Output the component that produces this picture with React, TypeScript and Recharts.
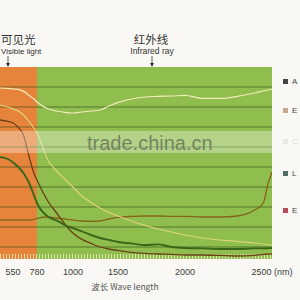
import { LineChart, Line, XAxis, YAxis, ReferenceArea, ReferenceLine, Legend } from 'recharts';

// wavelength grid (nm) and reflectance-like values
const wavelengths = [425, 500, 550, 600, 650, 700, 750, 780, 850, 900, 950, 1000, 1100, 1200, 1300, 1400, 1500, 1600, 1700, 1800, 1900, 2000, 2100, 2200, 2300, 2400, 2450, 2475, 2500];
const seriesA = [85.5, 85.3, 85, 84.8, 83.8, 82, 80, 78.5, 75, 74, 73.3, 73, 73.5, 74, 74.5, 76.5, 78.3, 80, 81, 81.3, 81.5, 81.8, 80.3, 80.3, 81.3, 83, 84, 84.5, 85];
const seriesB = [77, 76, 75, 74, 72, 69, 65.5, 63, 49, 44, 40, 36, 31.5, 28.3, 25.5, 23.3, 21.5, 19, 16.8, 15, 13.5, 12, 10.5, 9.5, 8.8, 8, 7.5, 7.2, 7];
const seriesC = [69.5, 68.8, 68, 65.8, 62, 52, 43, 39.5, 28.5, 23, 17.5, 13, 9.8, 7.8, 6, 5, 4.3, 3.3, 2.8, 2.5, 2.3, 2, 2, 1.8, 1.5, 1.8, 2.3, 2.4, 2.5];
const seriesD = [51, 50, 48.3, 46, 43, 38.5, 32, 28, 21, 19.3, 17, 15.5, 13.8, 12, 10.5, 9.5, 8.5, 7.8, 7, 7.3, 6, 5.5, 5.3, 5, 5, 5.3, 5.3, 5.4, 5.5];
const seriesE = [19.5, 19.5, 19.5, 19.5, 19.5, 19.5, 19.8, 20.3, 21, 20.5, 20, 19.5, 19, 18.8, 19, 20, 20.8, 21.3, 21.5, 21.5, 21.3, 21.3, 21, 21, 21.5, 24.5, 28, 37, 43.5];

const tickNm = [550, 780, 1000, 1500, 2000, 2500];
const tickLabels = ['550', '780', '1000', '1500', '2000', '2500 (nm)'];
const gridLevels = [6, 16, 26, 36, 46, 56, 66, 76, 86];

const legendNames = ['A', 'E', 'C', 'L', 'E'];
const legendColors = ['#444444', '#c9a68e', '#9aa090', '#4e6e62', '#b84b5c'];
const legendTops = [83, 112, 143, 175, 212];

// the printed axis is not linear: where each labelled wavelength sits along it
const axisNm = [425, 550, 780, 1000, 1500, 2000, 2500];
const axisFrac = [0, 0.048, 0.136, 0.268, 0.434, 0.68, 1];

function makeNmScale(dom: number[] = [425, 2500], rng: number[] = [0, 1]): any {
  const frac = (v: number) => {
    let i = 0;
    while (i < axisNm.length - 2 && v > axisNm[i + 1]) i++;
    const t = (v - axisNm[i]) / (axisNm[i + 1] - axisNm[i]);
    return axisFrac[i] + t * (axisFrac[i + 1] - axisFrac[i]);
  };
  const s: any = (v: number) => rng[0] + frac(v) * (rng[rng.length - 1] - rng[0]);
  s.domain = (d?: number[]) => {
    if (!d) return dom.slice();
    dom = d.slice();
    return s;
  };
  s.range = (r?: number[]) => {
    if (!r) return rng.slice();
    rng = r.slice();
    return s;
  };
  s.copy = () => makeNmScale(dom, rng);
  s.ticks = () => axisNm.slice(1);
  s.tickFormat = () => (v: number) => String(v);
  s.nice = () => s;
  s.clamp = () => s;
  return s;
}

const nmScale = makeNmScale();

const data = wavelengths.map((nm, i) => ({
  nm,
  A: seriesA[i],
  B: seriesB[i],
  C: seriesC[i],
  D: seriesD[i],
  E: seriesE[i],
}));

const latin = "'Liberation Sans', Arial, sans-serif";
const cjk = "'Noto Sans CJK SC', 'Liberation Sans', sans-serif";

function WaveTick(props: any) {
  const { x, y, payload } = props;
  const idx = tickNm.indexOf(payload.value);
  return (
    <text x={x} y={y + 16} textAnchor="middle" fontSize={9} fontFamily={latin} fill="#3c3c3c">
      {idx >= 0 ? tickLabels[idx] : payload.value}
    </text>
  );
}

function SideLegend() {
  return (
    <div style={{ position: 'relative', width: 300, height: 300 }}>
      {legendNames.map((n, i) => (
        <div
          key={i}
          style={{
            position: 'absolute',
            left: 283,
            top: legendTops[i] - 6,
            display: 'flex',
            alignItems: 'center',
            fontFamily: latin,
            fontSize: 8,
            color: '#444',
            opacity: i === 2 ? 0.15 : 1,
            whiteSpace: 'nowrap',
          }}
        >
          <span style={{ display: 'inline-block', width: 5, height: 5, background: legendColors[i], marginRight: 4 }} />
          {n}
        </div>
      ))}
    </div>
  );
}

export default function App() {
  return (
    <div style={{ position: 'fixed', left: 0, top: 0, width: 300, height: 300, background: '#f9f8f4', overflow: 'hidden' }}>
      <LineChart width={300} height={300} data={data} margin={{ top: 67, right: 28, bottom: 0, left: 0 }}>
        <XAxis
          dataKey="nm"
          type="number"
          domain={[425, 2500]}
          scale={nmScale}
          ticks={tickNm}
          interval={0}
          tick={<WaveTick />}
          tickLine={false}
          axisLine={false}
          tickSize={0}
          tickMargin={0}
          height={41}
          allowDataOverflow
        />
        <YAxis hide width={0} type="number" domain={[0, 96]} allowDataOverflow />
        <Legend
          layout="vertical"
          align="center"
          verticalAlign="middle"
          wrapperStyle={{ left: 0, top: 0, width: 300, height: 300, pointerEvents: 'none' }}
          content={() => <SideLegend />}
        />
        <ReferenceArea x1={425} x2={2500} y1={0} y2={96} fill="#8fbe4f" fillOpacity={1} stroke="none" />
        <ReferenceArea x1={425} x2={780} y1={0} y2={96} fill="#e6843c" fillOpacity={1} stroke="none" />
        {gridLevels.map((g) => (
          <ReferenceLine key={g} y={g} stroke="#2f4a12" strokeOpacity={0.6} strokeWidth={1.2} />
        ))}
        <ReferenceLine y={1.3} stroke="#e4e6b4" strokeWidth={5} strokeDasharray="1 2" strokeOpacity={0.85} />
        <Line type="monotone" dataKey="E" stroke="#86641c" strokeWidth={1.3} dot={false} isAnimationActive={false} />
        <Line type="monotone" dataKey="C" stroke="#6a3f14" strokeWidth={1.3} dot={false} isAnimationActive={false} />
        <Line type="monotone" dataKey="D" stroke="#3b6618" strokeWidth={1.9} dot={false} isAnimationActive={false} />
        <Line type="monotone" dataKey="B" stroke="#dcd47c" strokeWidth={1.2} dot={false} isAnimationActive={false} />
        <Line type="monotone" dataKey="A" stroke="#f1ecb6" strokeWidth={1.2} dot={false} isAnimationActive={false} />
      </LineChart>
      <svg width={300} height={300} style={{ position: 'absolute', left: 0, top: 0, pointerEvents: 'none' }}>
        <text x={1} y={44} fontSize={11.5} fontFamily={cjk} fill="#333">可见光</text>
        <text x={1} y={53.5} fontSize={8} fontFamily={latin} fill="#333">Visible light</text>
        <line x1={8} y1={56} x2={8} y2={64} stroke="#333" strokeWidth={0.8} />
        <polygon points="6,63 10,63 8,67" fill="#333" />
        <text x={151} y={44} textAnchor="middle" fontSize={11.5} fontFamily={cjk} fill="#333">红外线</text>
        <text x={152} y={53.5} textAnchor="middle" fontSize={8.5} fontFamily={latin} fill="#333">Infrared ray</text>
        <line x1={152} y1={56} x2={152} y2={64} stroke="#333" strokeWidth={0.8} />
        <polygon points="150,63 154,63 152,67" fill="#333" />
        <rect x={0} y={131} width={274} height={22} fill="#ffffff" fillOpacity={0.33} />
        <text x={87} y={150} fontSize={20} fontFamily={latin} fill="#6b7a58" fillOpacity={0.9}>trade.china.cn</text>
        <text x={125} y={290} textAnchor="middle" fontSize={8.5} fontFamily={cjk} fill="#555">波长 Wave length</text>
      </svg>
    </div>
  );
}
